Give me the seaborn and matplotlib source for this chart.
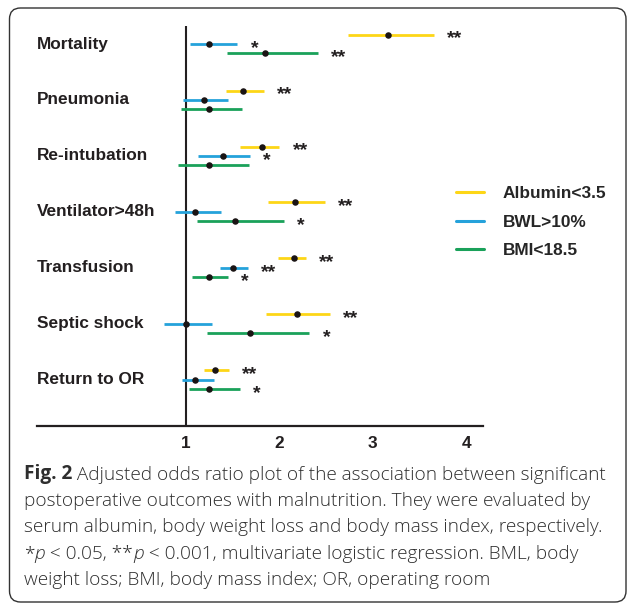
import matplotlib
matplotlib.use('Agg')
import matplotlib.pyplot as plt
from matplotlib.lines import Line2D
from matplotlib.patches import FancyBboxPatch
import seaborn as sns
import pandas as pd

# values (adjusted OR with 95% CI)
outcomes = ['Mortality', 'Pneumonia', 'Re-intubation', 'Ventilator>48h',
            'Transfusion', 'Septic shock', 'Return to OR']
groups = ['Albumin<3.5', 'BWL>10%', 'BMI<18.5']

or_alb = [3.16, 1.61, 1.81, 2.17, 2.16, 2.19, 1.31]
lo_alb = [2.73, 1.43, 1.58, 1.88, 1.98, 1.86, 1.19]
hi_alb = [3.65, 1.83, 2.00, 2.49, 2.28, 2.54, 1.46]
sig_alb = ['**', '**', '**', '**', '**', '**', '**']

or_bwl = [1.25, 1.19, 1.39, 1.10, 1.50, 1.00, 1.10]
lo_bwl = [1.04, 0.97, 1.13, 0.88, 1.36, 0.76, 0.96]
hi_bwl = [1.55, 1.45, 1.68, 1.37, 1.66, 1.28, 1.30]
sig_bwl = ['*', '', '*', '', '**', '', '']

or_bmi = [1.85, 1.24, 1.24, 1.52, 1.25, 1.68, 1.25]
lo_bmi = [1.44, 0.94, 0.91, 1.12, 1.06, 1.22, 1.03]
hi_bmi = [2.41, 1.60, 1.67, 2.05, 1.45, 2.32, 1.58]
sig_bmi = ['**', '', '', '*', '*', '*', '*']

xticks = [1, 2, 3, 4]

caption = [
    [('Fig. 2', 'bold', 'normal'), (' Adjusted odds ratio plot of the association between significant', 'light', 'normal')],
    [('postoperative outcomes with malnutrition. They were evaluated by', 'light', 'normal')],
    [('serum albumin, body weight loss and body mass index, respectively.', 'light', 'normal')],
    [('*', 'light', 'normal'), ('p', 'light', 'italic'), (' < 0.05, **', 'light', 'normal'),
     ('p', 'light', 'italic'), (' < 0.001, multivariate logistic regression. BML, body', 'light', 'normal')],
    [('weight loss; BMI, body mass index; OR, operating room', 'light', 'normal')],
]

colors = ['#FDD617', '#25A2DB', '#1AA15A']
ink = '#231F20'

rows = []
series = [(or_alb, lo_alb, hi_alb, sig_alb), (or_bwl, lo_bwl, hi_bwl, sig_bwl), (or_bmi, lo_bmi, hi_bmi, sig_bmi)]
for g, (ors, los, his, sigs) in enumerate(series):
    for i, o in enumerate(outcomes):
        rows.append(dict(outcome=o, group=groups[g], OR=ors[i], lo=los[i], hi=his[i],
                         sig=sigs[i], ypos=i + (g - 1) * 0.168))
df = pd.DataFrame(rows)

sns.set_style('white')
plt.rcParams['font.family'] = ['Liberation Sans', 'DejaVu Sans']

W, H = 627, 604
fig = plt.figure(figsize=(W / 100, H / 100), dpi=100)
ax = fig.add_axes([37 / W, 1 - 425.5 / H, (483 - 37) / W, (425.5 - 26) / H])

# confidence intervals
for g, name in enumerate(groups):
    sub = df[df['group'] == name]
    ax.hlines(sub['ypos'], sub['lo'], sub['hi'], color=colors[g], lw=2.0, zorder=2)

# point estimates
sns.scatterplot(data=df, x='OR', y='ypos', color='#1a1414', s=22, linewidth=0,
                zorder=4, ax=ax, legend=False)

# significance stars
for _, r in df.iterrows():
    if r['sig']:
        ax.annotate(r['sig'], (r['hi'], r['ypos']), xytext=(9.5, -6.4), textcoords='offset points',
                    ha='left', va='baseline', fontsize=14, fontweight='bold', color=ink)

ax.axvline(1, color=ink, lw=1.5, zorder=1)

for i, o in enumerate(outcomes):
    ax.text(0, i, o, transform=ax.get_yaxis_transform(), ha='left', va='center',
            fontsize=12.4, fontweight='bold', color=ink)

ax.set_xlim(-0.597, 4.18)
ax.set_ylim(6.818, -0.322)
ax.set_xticks(xticks)
ax.set_xticklabels([str(t) for t in xticks], fontsize=12.4, fontweight='bold', color=ink)
ax.set_yticks([])
ax.set_xlabel('')
ax.set_ylabel('')
ax.tick_params(axis='x', direction='in', length=6, width=1.3, color=ink, pad=7.5)
for s in ['top', 'right', 'left']:
    ax.spines[s].set_visible(False)
ax.spines['bottom'].set_linewidth(1.6)
ax.spines['bottom'].set_color(ink)

handles = [Line2D([], [], color=c, lw=2.2) for c in colors]
fig.legend(handles, groups, loc='center left', bbox_to_anchor=(456 / W, 1 - 222 / H),
           frameon=False, borderpad=0, borderaxespad=0, handlelength=1.6,
           handletextpad=1.1, labelspacing=0.78,
           prop={'family': 'Liberation Sans', 'weight': 'bold', 'size': 12.4})

# caption with mixed styles
renderer = fig.canvas.get_renderer()
cap_font = ['Open Sans', 'DejaVu Sans']
cap_color = '#2e2e2e'


def run_width(parts, size):
    total = 0
    for txt, wt, st in parts:
        t = fig.text(0, 0, txt, fontsize=size, fontweight=wt, fontstyle=st, family=cap_font)
        total += t.get_window_extent(renderer).width
        t.remove()
    return total


base = 10
size = base * 580 / run_width(caption[0], base)

y0 = 479.5
for k, parts in enumerate(caption):
    x = 24
    for txt, wt, st in parts:
        t = fig.text(x / W, 1 - (y0 + 26.4 * k) / H, txt, fontsize=size, fontweight=wt,
                     fontstyle=st, family=cap_font, color=cap_color, va='baseline')
        x += t.get_window_extent(renderer).width

frame = FancyBboxPatch((9.5 / 100, 2 / 100), (626 - 9.5) / 100, (602 - 8) / 100,
                       boxstyle='round,pad=0,rounding_size=0.11', transform=fig.dpi_scale_trans,
                       fill=False, ec='#333333', lw=1.0)
fig.add_artist(frame)

fig.savefig('out.png', dpi=100)
